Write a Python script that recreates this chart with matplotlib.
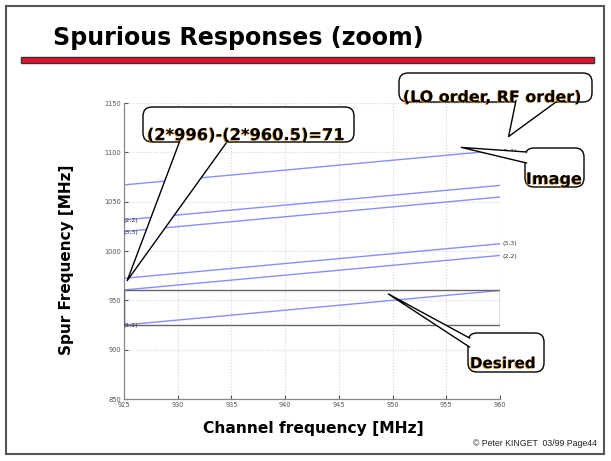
import matplotlib
matplotlib.use("Agg")
import matplotlib.pyplot as plt
import matplotlib.patheffects as pe
from matplotlib.patches import FancyBboxPatch, Rectangle, Polygon

# channel frequency (MHz) at the two ends of the plot
channel = [925, 960]

# spur frequencies (MHz) read at both ends, (LO order, RF order)
image_11 = [1067, 1102]
spur_22_hi = [1031.5, 1066.5]
spur_33_hi = [1019.7, 1054.7]
spur_33_lo = [972.3, 1007.3]
spur_22_lo = [960.5, 995.5]
desired_11 = [925, 960]

# receive band drawn as a box
band = [925, 960]

x_ticks = [925, 930, 935, 940, 945, 950, 955, 960]
y_ticks = [850, 900, 950, 1000, 1050, 1100, 1150]

W, H = 611, 461
fig = plt.figure(figsize=(W / 100, H / 100), dpi=100)
fig.patch.set_facecolor("white")

ax = fig.add_axes([124 / W, 1 - 399 / H, 376 / W, 296 / H])
line_color = "#8c8cff"
for s in [image_11, spur_22_hi, spur_33_hi, spur_33_lo, spur_22_lo, desired_11]:
    ax.plot(channel, s, color=line_color, lw=1.0)

ax.add_patch(Rectangle((band[0], band[0]), band[1] - band[0], band[1] - band[0],
                       fill=False, ec="#666666", lw=1.0, zorder=3))

ax.set_xlim(925, 960)
ax.set_ylim(850, 1150)
ax.set_xticks(x_ticks)
ax.set_yticks(y_ticks)
ax.tick_params(direction="in", length=3, labelsize=4.8, colors="#555555", pad=2)
ax.grid(True, color="#d4d4d4", linestyle=":", lw=0.8)
for side in ["top", "right"]:
    ax.spines[side].set_visible(False)
for side in ["left", "bottom"]:
    ax.spines[side].set_color("#888888")
    ax.spines[side].set_linewidth(0.9)

small = dict(fontsize=4.5, color="#333333", clip_on=False)
ax.text(channel[0], spur_22_hi[0] - 1, "(2,2)", ha="left", va="center", **small)
ax.text(channel[0], spur_33_hi[0] - 1, "(3,3)", ha="left", va="center", **small)
ax.text(channel[0], desired_11[0] - 1, "(1,1)", ha="left", va="center", **small)
ax.text(channel[1] + 0.2, image_11[1] - 1, "(1,1)", ha="left", va="center", **small)
ax.text(channel[1] + 0.2, spur_33_lo[1], "(3,3)", ha="left", va="center", **small)
ax.text(channel[1] + 0.2, spur_22_lo[1] - 1, "(2,2)", ha="left", va="center", **small)

# overlay in pixel coordinates for the slide decoration
ov = fig.add_axes([0, 0, 1, 1], zorder=10)
ov.set_xlim(0, W)
ov.set_ylim(H, 0)
ov.axis("off")
ov.patch.set_alpha(0)

ov.add_patch(Rectangle((6, 6), 598, 448, fill=False, ec="#555555", lw=1.5))
ov.add_patch(Rectangle((21, 57), 573, 6, fc="#e8102c", ec="#333333", lw=1.0))

bold = dict(family="DejaVu Sans", fontweight="bold", color="black")
fitted = []

title = ov.text(53, 45, "Spurious Responses (zoom)", ha="left", va="baseline",
                fontsize=18, **bold)
fitted.append((title, 371, "w"))
xl = ov.text(313, 433, "Channel frequency [MHz]", ha="center", va="baseline",
             fontsize=12, **bold)
fitted.append((xl, 220, "w"))
yl = ov.text(66, 260, "Spur Frequency [MHz]", ha="center", va="center",
             rotation=90, fontsize=12, **bold)
fitted.append((yl, 190, "h"))
foot = ov.text(597, 446, "\u00a9 Peter KINGET  03/99 Page44", ha="right",
               va="baseline", fontsize=6, family="Liberation Sans", color="#222222")
fitted.append((foot, 124, "w"))


def to_px(x, y):
    return ov.transData.inverted().transform(ax.transData.transform((x, y)))


shadow = [pe.withSimplePatchShadow(offset=(-0.6, -0.5), shadow_rgbFace="#e09020", alpha=1)]


def callout(box, text, tx, ty, tw, bases, tip):
    x0, y0, x1, y1 = box
    ov.add_patch(FancyBboxPatch((x0, y0), x1 - x0, y1 - y0,
                                boxstyle="round,pad=0,rounding_size=9",
                                fc="white", ec="black", lw=1.0, zorder=5))
    tp = to_px(*tip)
    ov.add_patch(Polygon([bases[0], tp, bases[1]], closed=True, fc="white",
                         ec="none", zorder=6))
    ov.plot([bases[0][0], tp[0], bases[1][0]], [bases[0][1], tp[1], bases[1][1]],
            color="black", lw=1.0, zorder=6, clip_on=False)
    t = ov.text(tx, ty, text, ha="left", va="baseline", fontsize=14, zorder=7,
                path_effects=shadow, **bold)
    fitted.append((t, tw, "w"))


callout((143, 107, 354, 142), "(2*996)-(2*960.5)=71", 147, 140, 198,
        [(180, 140.5), (228, 140.5)], (925.3, 970))
callout((399, 73, 592, 102), "(LO order, RF order)", 403, 102, 179,
        [(516, 100.5), (558, 100.5)], (960.8, 1116))
callout((525, 148, 584, 187), "Image", 526, 184, 56,
        [(526.5, 152), (526.5, 163)], (956.4, 1105))
callout((468, 333, 544, 372), "Desired", 470, 368, 66,
        [(469.5, 338), (469.5, 347)], (949.6, 956.5))

# scale the slide texts so their widths match the slide
fig.canvas.draw()
r = fig.canvas.get_renderer()
for t, target, dim in fitted:
    bb = t.get_window_extent(r)
    size = bb.width if dim == "w" else bb.height
    t.set_fontsize(t.get_fontsize() * target / size)

fig.savefig("out.png", dpi=100)
